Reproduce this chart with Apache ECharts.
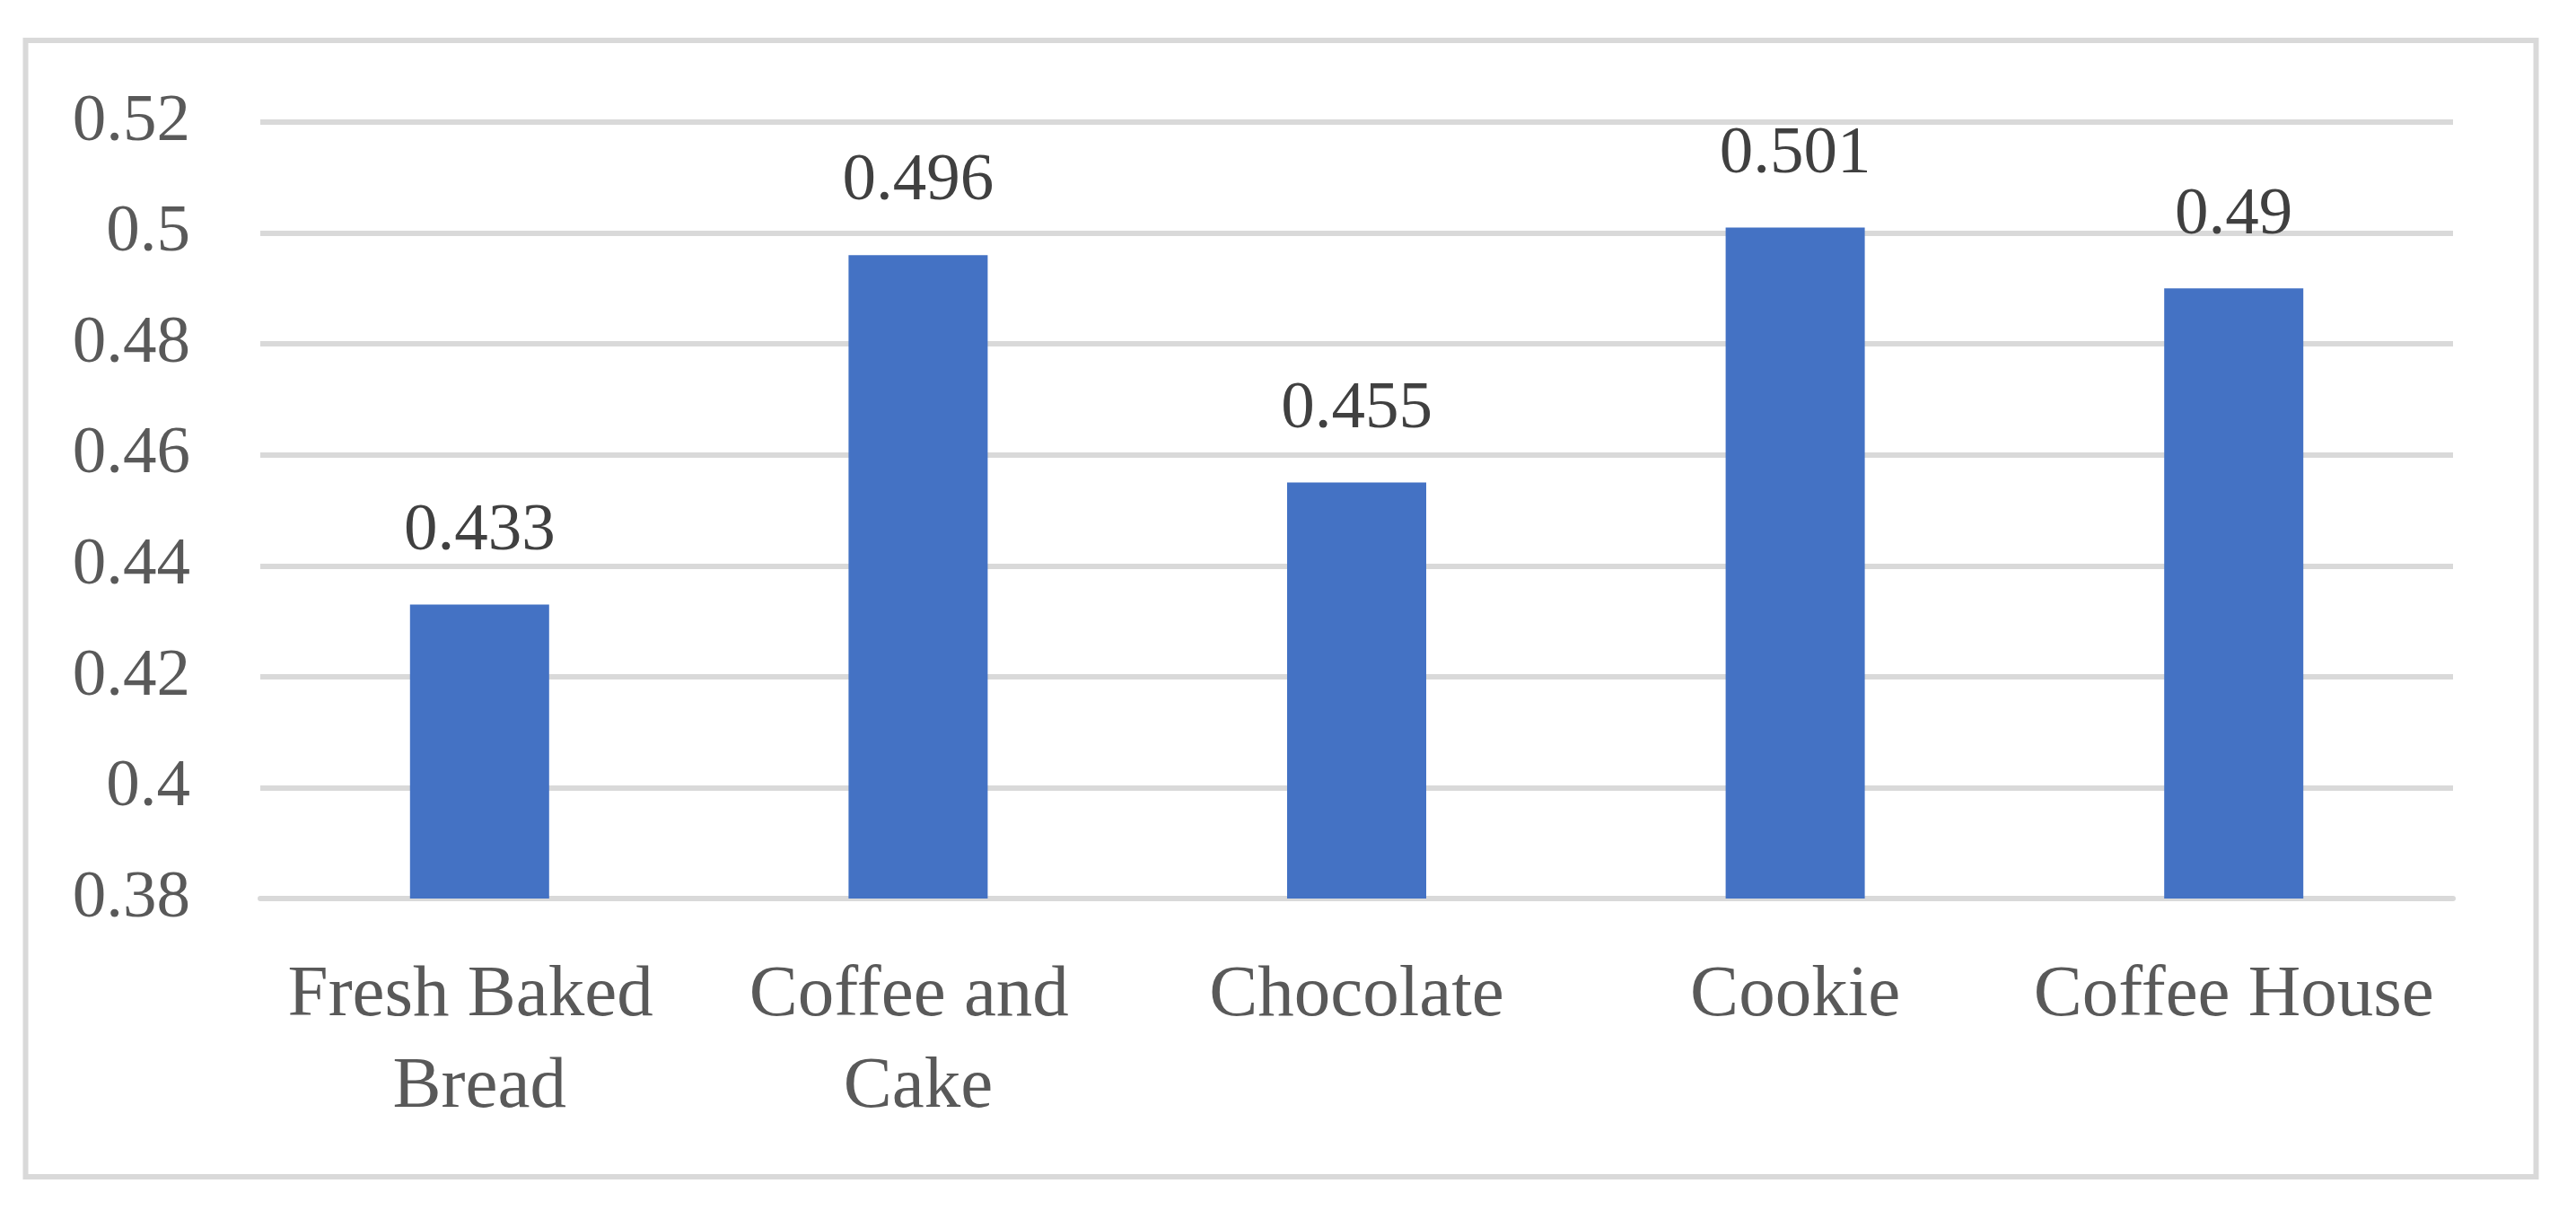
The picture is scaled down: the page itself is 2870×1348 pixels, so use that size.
<!DOCTYPE html>
<html>
<head>
<meta charset="utf-8">
<script src="https://cdn.jsdelivr.net/npm/echarts@6/dist/echarts.min.js"></script>
<style>
html,body{margin:0;padding:0;background:#fff;}
#chart{width:2870px;height:1348px;}
</style>
</head>
<body>
<div id="chart"></div>
<script>
var categories = ['Fresh Baked Bread', 'Coffee and Cake', 'Chocolate', 'Cookie', 'Coffee House'];
var values = [0.433, 0.496, 0.455, 0.501, 0.49];
var yTickLabels = ['0.38', '0.4', '0.42', '0.44', '0.46', '0.48', '0.5', '0.52'];
var yMin = 0.38, yMax = 0.52, yStep = 0.02;

var FONT = '"Liberation Serif", "Times New Roman", serif';
var chart = echarts.init(document.getElementById('chart'), null, {renderer: 'canvas'});
chart.setOption({
  animation: false,
  backgroundColor: '#ffffff',
  graphic: [{
    type: 'rect',
    shape: {x: 28.5, y: 45, width: 2797, height: 1266},
    style: {fill: 'none', stroke: '#d9d9d9', lineWidth: 6},
    silent: true, z: -1
  }],
  grid: {left: 290, right: 137, top: 136, bottom: 347, containLabel: false},
  xAxis: {
    type: 'category',
    data: categories,
    axisLine: {show: true, lineStyle: {color: '#d9d9d9', width: 6}},
    axisTick: {show: false},
    axisLabel: {
      color: '#595959', fontFamily: FONT, fontSize: 81, lineHeight: 102,
      margin: 58, width: 470, overflow: 'break', interval: 0
    }
  },
  yAxis: {
    type: 'value',
    min: yMin, max: yMax, interval: yStep,
    axisLine: {show: false},
    axisTick: {show: false},
    splitLine: {show: true, lineStyle: {color: '#d9d9d9', width: 6}},
    axisLabel: {
      color: '#595959', fontFamily: FONT, fontSize: 75, margin: 78,
      formatter: function (v) {
        var i = Math.round((v - yMin) / yStep);
        return yTickLabels[i] !== undefined ? yTickLabels[i] : '';
      }
    }
  },
  series: [{
    type: 'bar',
    data: values,
    barWidth: 155,
    itemStyle: {color: '#4472c4'},
    label: {
      show: true, position: 'top', distance: 44,
      color: '#404040', fontFamily: FONT, fontSize: 75,
      formatter: function (p) { return String(values[p.dataIndex]); }
    }
  }]
});
</script>
</body>
</html>
